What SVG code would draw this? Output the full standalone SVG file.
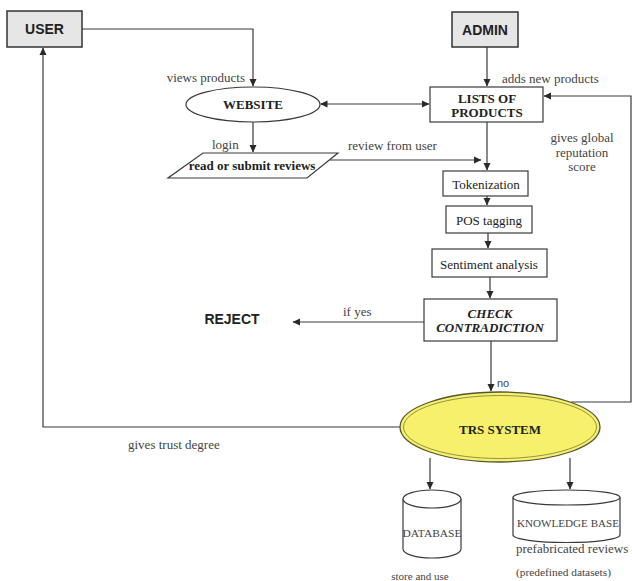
<svg xmlns="http://www.w3.org/2000/svg" width="632" height="581" viewBox="0 0 632 581">
  <style>
    .bg { fill: #ffffff; }
    .ln { fill: none; stroke: #3a3a3a; stroke-width: 1.2; }
    .box { fill: #ffffff; stroke: #3a3a3a; stroke-width: 1.2; }
    .actor { fill: #e6e6e6; stroke: #333333; stroke-width: 1.5; }
    .actorText { font-family: "Liberation Sans", Arial, sans-serif; font-weight: bold; font-size: 14px; fill: #222; text-anchor: middle; }
    .nodeB { font-family: "Liberation Serif", "Times New Roman", serif; font-weight: bold; font-size: 13px; fill: #222; text-anchor: middle; }
    .nodeR { font-family: "Liberation Serif", "Times New Roman", serif; font-size: 13px; fill: #222; text-anchor: middle; }
    .nodeBI { font-family: "Liberation Serif", "Times New Roman", serif; font-weight: bold; font-style: italic; font-size: 13px; fill: #222; text-anchor: middle; }
    .lbl { font-family: "Liberation Serif", "Times New Roman", serif; font-size: 13px; fill: #444; }
    .small { font-family: "Liberation Serif", "Times New Roman", serif; font-size: 11px; fill: #444; }
    .sans { font-family: "Liberation Sans", Arial, sans-serif; font-size: 11px; fill: #444; }
  </style>
  <defs>
    <marker id="arrow" markerWidth="8" markerHeight="8" refX="7" refY="4" orient="auto" markerUnits="userSpaceOnUse">
      <path d="M0,0.5 L7.5,4 L0,7.5 z" fill="#2a2a2a"/>
    </marker>
    <marker id="arrowStart" markerWidth="8" markerHeight="8" refX="1" refY="4" orient="auto" markerUnits="userSpaceOnUse">
      <path d="M7.5,0.5 L0,4 L7.5,7.5 z" fill="#2a2a2a"/>
    </marker>
  </defs>

  <rect class="bg" x="0" y="0" width="632" height="581"/>

  <!-- connectors -->
  <g id="connectors">
    <!-- USER -> WEBSITE -->
    <path class="ln" d="M82,29 H253 V86" marker-end="url(#arrow)"/>
    <!-- ADMIN -> LISTS OF PRODUCTS -->
    <path class="ln" d="M487,47 V86" marker-end="url(#arrow)"/>
    <!-- WEBSITE <-> LISTS OF PRODUCTS -->
    <path class="ln" d="M321,104 H429" marker-start="url(#arrowStart)" marker-end="url(#arrow)"/>
    <!-- WEBSITE -> read or submit reviews -->
    <path class="ln" d="M253,122 V152" marker-end="url(#arrow)"/>
    <!-- reviews -> pipeline -->
    <path class="ln" d="M330,160 H481" marker-end="url(#arrow)"/>
    <!-- LISTS -> Tokenization -->
    <path class="ln" d="M487,122 V170" marker-end="url(#arrow)"/>
    <!-- Tokenization -> POS tagging -->
    <path class="ln" d="M487,196 V205" marker-end="url(#arrow)"/>
    <!-- POS tagging -> Sentiment analysis -->
    <path class="ln" d="M488,233 V248" marker-end="url(#arrow)"/>
    <!-- Sentiment analysis -> CHECK CONTRADICTION -->
    <path class="ln" d="M490,277 V298" marker-end="url(#arrow)"/>
    <!-- CHECK CONTRADICTION -> REJECT -->
    <path class="ln" d="M424,322 H293" marker-end="url(#arrow)"/>
    <!-- CHECK CONTRADICTION -> TRS SYSTEM -->
    <path class="ln" d="M491,341 V391" marker-end="url(#arrow)"/>
    <!-- TRS SYSTEM -> USER -->
    <path class="ln" d="M400,427 H43 V48" marker-end="url(#arrow)"/>
    <!-- TRS SYSTEM -> LISTS OF PRODUCTS (global reputation) -->
    <path class="ln" d="M571,402 H631 V96 H544" marker-end="url(#arrow)"/>
    <!-- TRS SYSTEM -> DATABASE -->
    <path class="ln" d="M430,458 V489" marker-end="url(#arrow)"/>
    <!-- TRS SYSTEM -> KNOWLEDGE BASE -->
    <path class="ln" d="M570,458 V489" marker-end="url(#arrow)"/>
  </g>

  <!-- connector labels -->
  <g id="labels">
    <text class="lbl" x="245" y="82" text-anchor="end">views products</text>
    <text class="lbl" x="212" y="149">login</text>
    <text class="lbl" x="348" y="150">review from user</text>
    <text class="lbl" x="502" y="83">adds new products</text>
    <text class="lbl" x="582" y="142" text-anchor="middle">gives global</text>
    <text class="lbl" x="582" y="157" text-anchor="middle">reputation</text>
    <text class="lbl" x="582" y="171" text-anchor="middle">score</text>
    <text class="lbl" x="343" y="316">if yes</text>
    <text class="sans" x="497" y="387">no</text>
    <text class="lbl" x="128" y="449">gives trust degree</text>
  </g>

  <g id="user">
    <rect class="actor" x="7" y="11" width="75" height="36"/>
    <text class="actorText" x="44.5" y="34">USER</text>
  </g>

  <g id="admin">
    <rect class="actor" x="452" y="12" width="66" height="35"/>
    <text class="actorText" x="485" y="35">ADMIN</text>
  </g>

  <g id="website">
    <ellipse class="box" cx="253" cy="104.5" rx="67" ry="17.5"/>
    <text class="nodeB" x="253" y="109">WEBSITE</text>
  </g>

  <g id="reviews">
    <polygon class="box" points="203,153 338,153 307,178 168,178"/>
    <text class="nodeB" x="252" y="170" font-size="12.5">read or submit reviews</text>
  </g>

  <g id="products">
    <rect class="box" x="430" y="87" width="113" height="35"/>
    <text class="nodeB" x="487" y="103">LISTS OF</text>
    <text class="nodeB" x="487" y="117">PRODUCTS</text>
  </g>

  <g id="tokenization">
    <rect class="box" x="443" y="171" width="85" height="25"/>
    <text class="nodeR" x="486" y="189" font-size="12.5">Tokenization</text>
  </g>

  <g id="pos">
    <rect class="box" x="446" y="206" width="86" height="27"/>
    <text class="nodeR" x="489" y="225">POS tagging</text>
  </g>

  <g id="sentiment">
    <rect class="box" x="432" y="249" width="115" height="28"/>
    <text class="nodeR" x="489" y="269">Sentiment analysis</text>
  </g>

  <g id="check">
    <rect class="box" x="424" y="299" width="133" height="42"/>
    <text class="nodeBI" x="490" y="318">CHECK</text>
    <text class="nodeBI" x="490" y="332">CONTRADICTION</text>
  </g>

  <g id="reject">
    <text class="actorText" x="232" y="324" font-size="11.5" text-anchor="start">REJECT</text>
  </g>

  <g id="trs">
    <ellipse cx="500" cy="427" rx="100" ry="35" fill="#f6f06a" stroke="#555530" stroke-width="1.3"/>
    <ellipse cx="500" cy="427" rx="96.5" ry="31.5" fill="none" stroke="#7a7a40" stroke-width="0.8"/>
    <text class="nodeB" x="500" y="434" font-size="16.5">TRS SYSTEM</text>
  </g>

  <g id="database">
    <path class="box" d="M403,499 V549 A29,9 0 0 0 461,549 V499"/>
    <ellipse class="box" cx="432" cy="499" rx="29" ry="9"/>
    <text class="small" x="432" y="537" text-anchor="middle" textLength="59" lengthAdjust="spacingAndGlyphs">DATABASE</text>
    <text class="small" x="420" y="580" text-anchor="middle">store and use</text>
  </g>

  <g id="knowledge">
    <path class="box" d="M513,497.5 V535 A53.5,7.5 0 0 0 620,535 V497.5"/>
    <ellipse class="box" cx="566.5" cy="497.5" rx="53.5" ry="7.5"/>
    <text class="small" x="568" y="527" text-anchor="middle" textLength="102" lengthAdjust="spacingAndGlyphs">KNOWLEDGE BASE</text>
    <text class="lbl" x="516" y="553">prefabricated reviews</text>
    <text class="small" x="516" y="576" textLength="95" lengthAdjust="spacingAndGlyphs">(predefined datasets)</text>
  </g>
</svg>
